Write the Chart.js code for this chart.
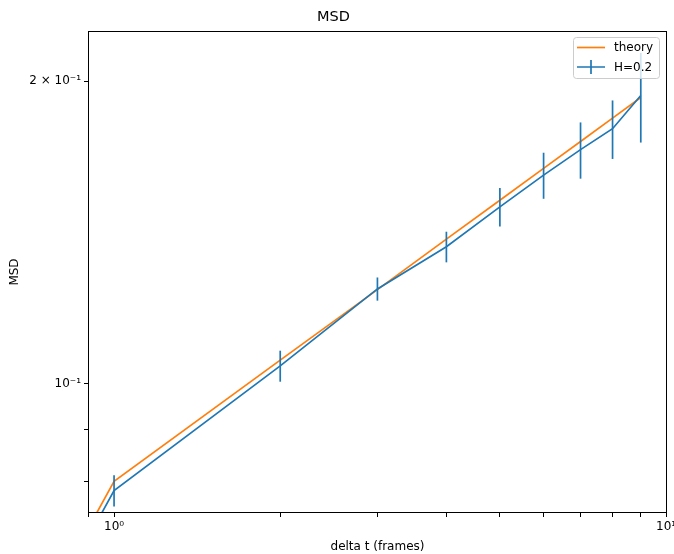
<!DOCTYPE html>
<html>
<head>
<meta charset="utf-8">
<title>MSD</title>
<script src="https://cdn.jsdelivr.net/npm/chart.js@4"></script>
<style>
  html, body { margin: 0; padding: 0; background: #fff; overflow: hidden; }
  #wrap { width: 674px; height: 554px; position: relative; }
</style>
</head>
<body>
<div id="wrap"><canvas id="msdChart"></canvas></div>
<script>
// lag times (frames); first entry is the lead-in below the axis range
const deltaT = [0.85, 1, 2, 3, 4, 5, 6, 7, 8, 9];
const theoryMsd = [0.068, 0.0800, 0.1056, 0.1241, 0.1393, 0.1523, 0.1638, 0.1742, 0.1838, 0.1927];
const measuredMsd = [0.0666, 0.0783, 0.1042, 0.1243, 0.1369, 0.1500, 0.1613, 0.1710, 0.1794, 0.1936];
const measuredErr = [null, 0.0028, 0.0037, 0.0033, 0.0048, 0.0066, 0.0085, 0.0110, 0.0120, 0.0198];

const xTickVals = [0.9, 1, 2, 3, 4, 5, 6, 7, 8, 9, 10];
const xTickText = ['', '10⁰', '', '', '', '', '', '', '', '', '10¹'];
const yTickVals = [0.08, 0.09, 0.1, 0.2];
const yTickText = ['', '', '10⁻¹', '2 × 10⁻¹'];

const FONT = 'DejaVu Sans';
const BLUE = '#1f77b4';
const ORANGE = '#ff7f0e';

const toPoints = (xs, ys) => xs.map((x, i) => ({ x: x, y: ys[i] }));

// vertical error bars for any dataset that carries an `errors` array
const errorBars = {
  id: 'errorBars',
  afterDatasetsDraw(chart) {
    const { ctx, chartArea, scales } = chart;
    ctx.save();
    ctx.beginPath();
    ctx.rect(chartArea.left, chartArea.top, chartArea.right - chartArea.left, chartArea.bottom - chartArea.top);
    ctx.clip();
    chart.data.datasets.forEach(ds => {
      if (!ds.errors) return;
      ctx.strokeStyle = ds.borderColor;
      ctx.lineWidth = 1.7;
      ds.data.forEach((p, i) => {
        const e = ds.errors[i];
        if (e == null) return;
        const px = scales.x.getPixelForValue(p.x);
        ctx.beginPath();
        ctx.moveTo(px, scales.y.getPixelForValue(p.y - e));
        ctx.lineTo(px, scales.y.getPixelForValue(p.y + e));
        ctx.stroke();
      });
    });
    ctx.restore();
  }
};

// full box around the axes plus a matplotlib-style legend
const frameAndLegend = {
  id: 'frameAndLegend',
  afterDraw(chart) {
    const { ctx, chartArea } = chart;
    const { left, top, right, bottom } = chartArea;
    ctx.save();
    ctx.strokeStyle = '#000';
    ctx.lineWidth = 1;
    ctx.strokeRect(Math.round(left) + 0.5, Math.round(top) + 0.5,
      Math.round(right - left) - 1, Math.round(bottom - top) - 1);

    const bx = right - 94, by = top + 6, bw = 86, bh = 41;
    ctx.beginPath();
    ctx.roundRect(bx + 0.5, by + 0.5, bw, bh, 3);
    ctx.fillStyle = 'rgba(255,255,255,0.8)';
    ctx.fill();
    ctx.strokeStyle = '#cccccc';
    ctx.stroke();

    ctx.font = '12px "' + FONT + '"';
    ctx.textBaseline = 'middle';
    ctx.textAlign = 'left';
    chart.data.datasets.forEach((ds, i) => {
      const ly = by + 10.5 + i * 19.5;
      ctx.strokeStyle = ds.borderColor;
      ctx.lineWidth = 1.7;
      ctx.beginPath();
      ctx.moveTo(bx + 4, ly);
      ctx.lineTo(bx + 32, ly);
      if (ds.errors) {
        ctx.moveTo(bx + 18, ly - 7);
        ctx.lineTo(bx + 18, ly + 7);
      }
      ctx.stroke();
      ctx.fillStyle = '#000';
      ctx.fillText(ds.label, bx + 41, ly + 0.5);
    });
    ctx.restore();
  }
};

const tickFont = { family: FONT, size: 12 };

new Chart(document.getElementById('msdChart'), {
  type: 'line',
  data: {
    datasets: [
      {
        label: 'theory',
        data: toPoints(deltaT, theoryMsd),
        borderColor: ORANGE,
        backgroundColor: ORANGE,
        borderWidth: 1.7,
        pointRadius: 0,
        tension: 0,
        order: 2
      },
      {
        label: 'H=0.2',
        data: toPoints(deltaT, measuredMsd),
        errors: measuredErr,
        borderColor: BLUE,
        backgroundColor: BLUE,
        borderWidth: 1.7,
        pointRadius: 0,
        tension: 0,
        order: 1
      }
    ]
  },
  options: {
    responsive: true,
    maintainAspectRatio: false,
    animation: false,
    layout: { padding: { left: 0, right: 7, top: 0, bottom: 0 } },
    plugins: {
      legend: { display: false },
      tooltip: { enabled: false },
      title: {
        display: true,
        text: 'MSD',
        color: '#000',
        font: { family: FONT, size: 14.5, weight: 'normal' },
        padding: { top: 8.5, bottom: 5.1 }
      }
    },
    scales: {
      x: {
        type: 'logarithmic',
        min: 0.897,
        max: 10.04,
        border: { display: false },
        grid: { drawOnChartArea: false, drawTicks: true, tickLength: 4, color: '#000', tickColor: '#000' },
        ticks: {
          autoSkip: false, maxRotation: 0, padding: 3, color: '#000', font: tickFont,
          callback: (v, i) => xTickText[i]
        },
        title: {
          display: true, text: 'delta t (frames)', color: '#000',
          font: { family: FONT, size: 12 }, padding: { top: 0, bottom: 0 }
        },
        afterBuildTicks: s => { s.ticks = xTickVals.map(v => ({ value: v })); },
        afterFit: s => { s.height = 41; s.paddingLeft = 0; s.paddingRight = 0; }
      },
      y: {
        type: 'logarithmic',
        min: 0.0744,
        max: 0.2244,
        border: { display: false },
        grid: { drawOnChartArea: false, drawTicks: true, tickLength: 4, color: '#000', tickColor: '#000' },
        ticks: {
          autoSkip: false, padding: 3, color: '#000', font: tickFont,
          callback: (v, i) => yTickText[i]
        },
        title: {
          display: true, text: 'MSD', color: '#000',
          font: { family: FONT, size: 12 }, padding: { top: 8, bottom: 0 }
        },
        afterBuildTicks: s => { s.ticks = yTickVals.map(v => ({ value: v })); },
        afterFit: s => { s.width = 88; s.paddingTop = 0; s.paddingBottom = 0; }
      }
    }
  },
  plugins: [errorBars, frameAndLegend]
});
</script>
</body>
</html>
